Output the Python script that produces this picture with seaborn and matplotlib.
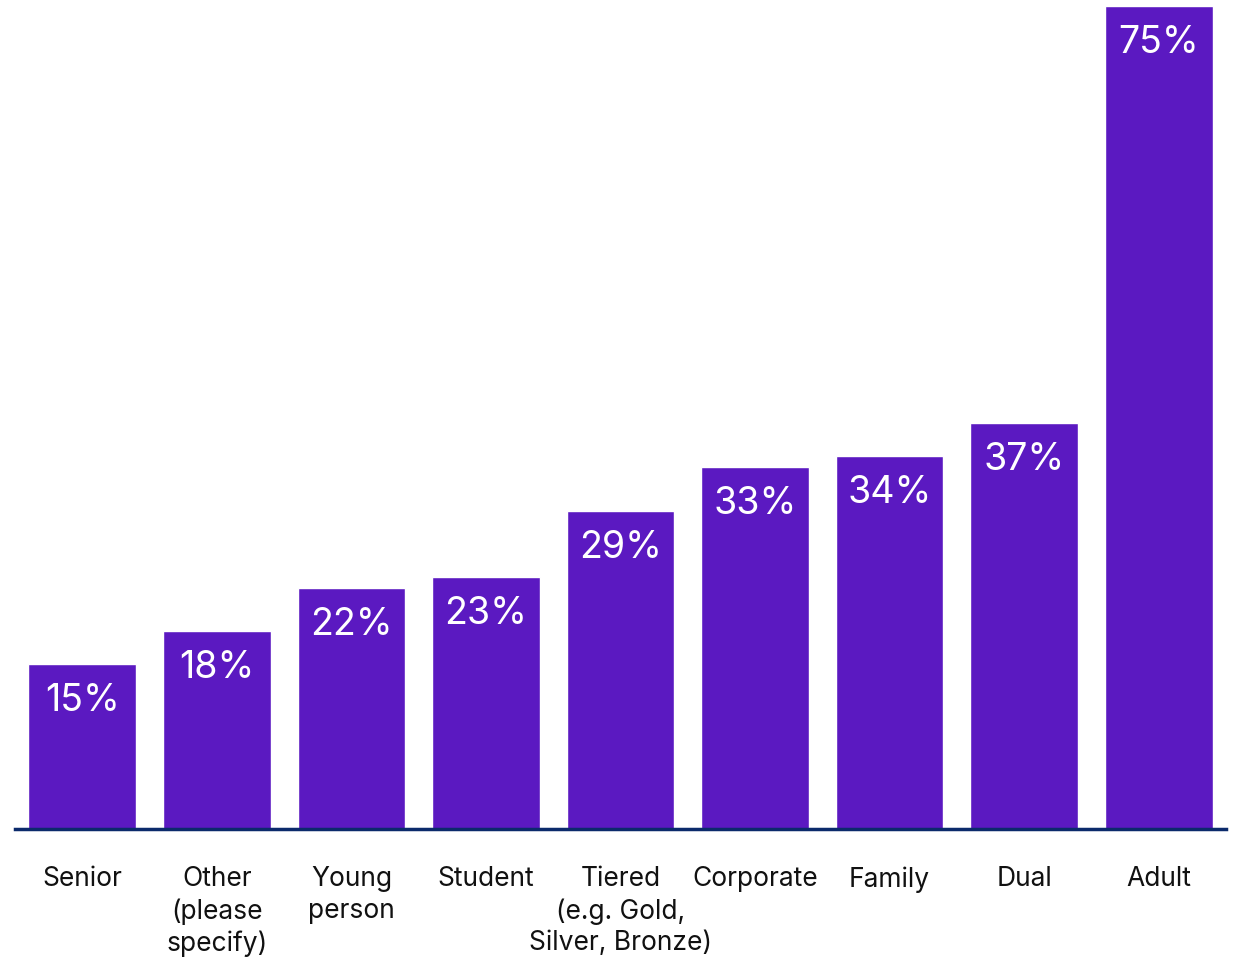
import matplotlib
matplotlib.use("Agg")
import matplotlib.pyplot as plt
import seaborn as sns
import pandas as pd

categories = ["Senior", "Other\n(please\nspecify)", "Young\nperson", "Student",
              "Tiered\n(e.g. Gold,\nSilver, Bronze)", "Corporate", "Family", "Dual", "Adult"]
values = [15, 18, 22, 23, 29, 33, 34, 37, 75]
value_labels = ["15%", "18%", "22%", "23%", "29%", "33%", "34%", "37%", "75%"]

sns.set_theme(style="white")
plt.rcParams["font.family"] = ["Inter", "DejaVu Sans"]

df = pd.DataFrame({"type": categories, "share": values})

fig = plt.figure(figsize=(12.34, 9.57), dpi=100)
ax = fig.add_axes([15 / 1234, 1 - 829 / 957, 1211 / 1234, 823 / 957])

sns.barplot(data=df, x="type", y="share", color="#5B19C1", saturation=1,
            width=0.8, ax=ax)

ax.set_xlim(-0.5, len(categories) - 0.5)
ax.set_ylim(0, 75)
ax.set_xlabel("")
ax.set_ylabel("")
ax.set_yticks([])
for side in ["top", "right", "left"]:
    ax.spines[side].set_visible(False)
ax.spines["bottom"].set_color("#0B2A6B")
ax.spines["bottom"].set_linewidth(2.5)

ax.tick_params(axis="x", length=0, pad=27)
ax.set_xticks(range(len(categories)))
ax.set_xticklabels(categories, fontsize=19, color="#111111", linespacing=1.27,
                   va="top")

for i, (v, lab) in enumerate(zip(values, value_labels)):
    ax.annotate(lab, xy=(i, v), xytext=(0, -37), textcoords="offset pixels",
                ha="center", va="center", color="white", fontsize=27)

fig.savefig("out.png", dpi=100, facecolor="white")
